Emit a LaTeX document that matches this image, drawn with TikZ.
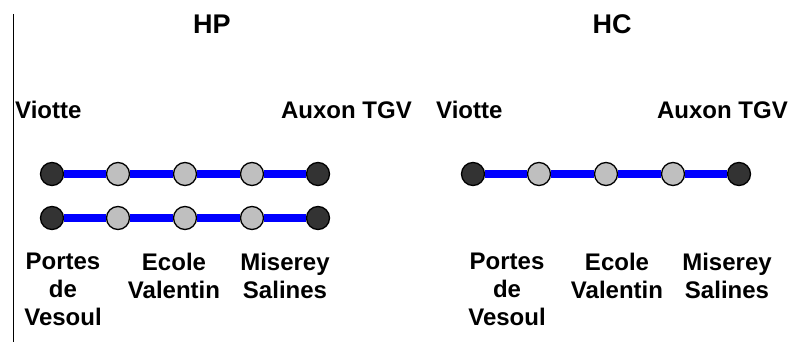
\documentclass[tikz,border=0pt]{standalone}
\usepackage{fontspec}
\setmainfont{Liberation Sans}
\begin{document}
\begin{tikzpicture}[x=1pt,y=-1pt,
  endst/.style={circle,draw=black,line width=1.3pt,fill=black!80,minimum size=23pt,inner sep=0pt},
  midst/.style={circle,draw=black,line width=1.3pt,fill=black!25,minimum size=23pt,inner sep=0pt},
  track/.style={draw=blue,line width=8pt},
  title/.style={font=\fontsize{27}{30}\selectfont\bfseries,anchor=base,inner sep=0pt},
  lbl/.style={font=\fontsize{24}{28}\selectfont\bfseries,anchor=base,inner sep=0pt},
  lblc/.style={font=\fontsize{24}{28}\selectfont\bfseries,anchor=north,align=center,inner sep=0pt}]
\useasboundingbox (0,0) rectangle (800,342);
\coordinate (vtop) at (13,14);
\coordinate (vbot) at (13,342);
\draw[line width=1pt] (vtop) -- (vbot);
% titles
\node[title] (hp) at (212,34) {HP};
\node[title] (hc) at (612,34) {HC};
% terminus labels
\node[lbl,anchor=base west] (v1) at (15,118) {Viotte};
\node[lbl,anchor=base east] (a1) at (412,118) {Auxon TGV};
\node[lbl,anchor=base west] (v2) at (436,118) {Viotte};
\node[lbl,anchor=base east] (a2) at (788,118) {Auxon TGV};
% HP row 1
\node[endst] (p1) at (52,174) {};
\node[midst] (p2) at (118,174) {};
\node[midst] (p3) at (185,174) {};
\node[midst] (p4) at (252,174) {};
\node[endst] (p5) at (318,174) {};
% HP row 2
\node[endst] (q1) at (52,218) {};
\node[midst] (q2) at (118,218) {};
\node[midst] (q3) at (185,218) {};
\node[midst] (q4) at (252,218) {};
\node[endst] (q5) at (318,218) {};
% HC row
\node[endst] (r1) at (473,174) {};
\node[midst] (r2) at (539,174) {};
\node[midst] (r3) at (606,174) {};
\node[midst] (r4) at (673,174) {};
\node[endst] (r5) at (739,174) {};
\draw[track] (p1) -- (p2) (p2) -- (p3) (p3) -- (p4) (p4) -- (p5);
\draw[track] (q1) -- (q2) (q2) -- (q3) (q3) -- (q4) (q4) -- (q5);
\draw[track] (r1) -- (r2) (r2) -- (r3) (r3) -- (r4) (r4) -- (r5);
% station labels
\node[lblc] (l1) at (63,252.5) {Portes\\de\\Vesoul};
\node[lblc] (l2) at (174,252.5) {Ecole\\Valentin};
\node[lblc] (l3) at (285,252.5) {Miserey\\Salines};
\node[lblc] (m1) at (507,252.5) {Portes\\de\\Vesoul};
\node[lblc] (m2) at (617,252.5) {Ecole\\Valentin};
\node[lblc] (m3) at (727,252.5) {Miserey\\Salines};
\end{tikzpicture}
\end{document}
